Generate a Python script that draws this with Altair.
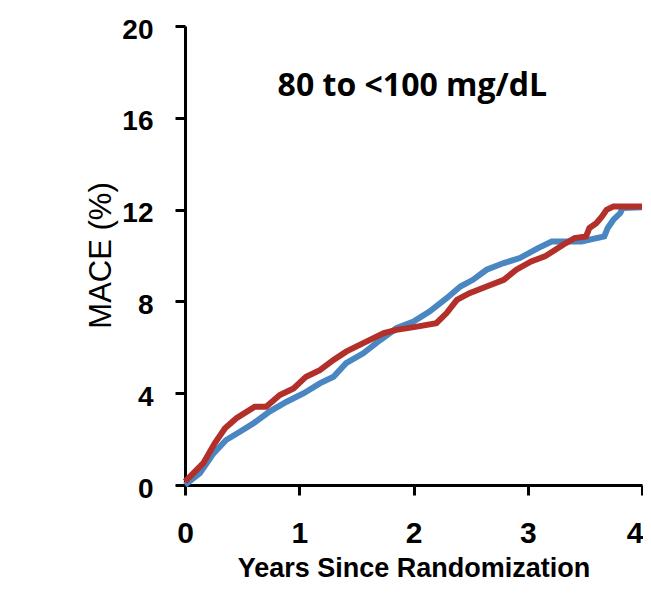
import altair as alt
import pandas as pd

# Blue curve (years, MACE %)
blue_x = [0.0, 0.13, 0.25, 0.36, 0.48, 0.60, 0.74, 0.89, 1.04, 1.18, 1.30, 1.41, 1.56, 1.71, 1.85, 2.00, 2.14, 2.29, 2.41, 2.52, 2.64, 2.79, 2.93, 3.09, 3.21, 3.47, 3.67, 3.70, 3.75, 3.81, 3.83, 4.0]
blue_y = [0.0, 0.51, 1.38, 1.96, 2.32, 2.69, 3.20, 3.63, 4.00, 4.43, 4.72, 5.31, 5.74, 6.32, 6.83, 7.12, 7.56, 8.14, 8.65, 8.94, 9.38, 9.67, 9.89, 10.32, 10.61, 10.61, 10.83, 11.20, 11.56, 11.85, 12.07, 12.1]

# Red curve
red_x = [0.0, 0.16, 0.26, 0.35, 0.45, 0.61, 0.71, 0.83, 0.95, 1.06, 1.18, 1.30, 1.41, 1.56, 1.74, 1.85, 2.03, 2.20, 2.29, 2.38, 2.49, 2.64, 2.79, 2.90, 3.03, 3.15, 3.31, 3.41, 3.51, 3.54, 3.60, 3.65, 3.69, 3.75, 4.0]
red_y = [0.15, 0.95, 1.82, 2.47, 2.91, 3.41, 3.41, 3.92, 4.21, 4.72, 5.00, 5.45, 5.81, 6.18, 6.62, 6.76, 6.90, 7.05, 7.49, 8.07, 8.36, 8.65, 8.94, 9.38, 9.74, 9.96, 10.47, 10.76, 10.83, 11.20, 11.41, 11.70, 11.99, 12.14, 12.14]

x_ticks = [0, 1, 2, 3, 4]
y_ticks = [0, 4, 8, 12, 16, 20]

panel_label = ["80 to <100 mg/dL"]
label_x = [1.99]
label_y = [17.4]

df = pd.concat([
    pd.DataFrame({"years": blue_x, "mace": blue_y, "group": "blue", "order": range(len(blue_x))}),
    pd.DataFrame({"years": red_x, "mace": red_y, "group": "red", "order": range(len(red_x))}),
])

x_enc = alt.X("years:Q", scale=alt.Scale(domain=[0, 4], nice=False, zero=False),
              axis=alt.Axis(values=x_ticks, title="Years Since Randomization", format="d",
                            labelFlush=False, labelFontSize=30, labelPadding=23,
                            labelAlign={"condition": {"test": "datum.value == 4", "value": "right"}, "value": "center"},
                            labelOffset={"condition": {"test": "datum.value == 4", "value": 1}, "value": 0},
                            titlePadding=7, titleFontSize=27,
                            titleFontWeight="bold", titleFont="Liberation Sans"))
y_enc = alt.Y("mace:Q", scale=alt.Scale(domain=[0, 20], nice=False),
              axis=alt.Axis(values=y_ticks, title="MACE (%)", labelPadding=22, labelFontSize=28,
                            labelOffset=4,
                            titleFontSize=31, titleFontWeight="normal", titleFont="Liberation Sans",
                            titleX=-68, titleY=229))

lines = alt.Chart(df).mark_line(strokeWidth=6, interpolate="linear").encode(
    x=x_enc, y=y_enc, detail="group:N", order="order:Q",
    color=alt.Color("group:N", scale=alt.Scale(domain=["blue", "red"], range=["#4a86c2", "#b32f29"]), legend=None),
)

text = alt.Chart(pd.DataFrame({"t": panel_label, "x": label_x, "y": label_y})).mark_text(
    font="Open Sans", fontWeight="bold", fontSize=32, color="black", baseline="middle", align="center"
).encode(x="x:Q", y="y:Q", text="t:N")

chart = alt.layer(lines, text).properties(
    width=457, height=459,
    autosize=alt.AutoSizeParams(type="none"),
    padding={"left": 177, "top": 18, "right": 1, "bottom": 97},
).configure_view(stroke=None).configure_axis(
    grid=False, domainColor="black", domainWidth=3, tickColor="black", tickWidth=3, tickSize=10,
    labelFont="Liberation Sans", labelFontWeight="bold", labelColor="black",
    titleColor="black",
)

chart.save("out.html", embed_options={"renderer": "svg", "actions": False})
